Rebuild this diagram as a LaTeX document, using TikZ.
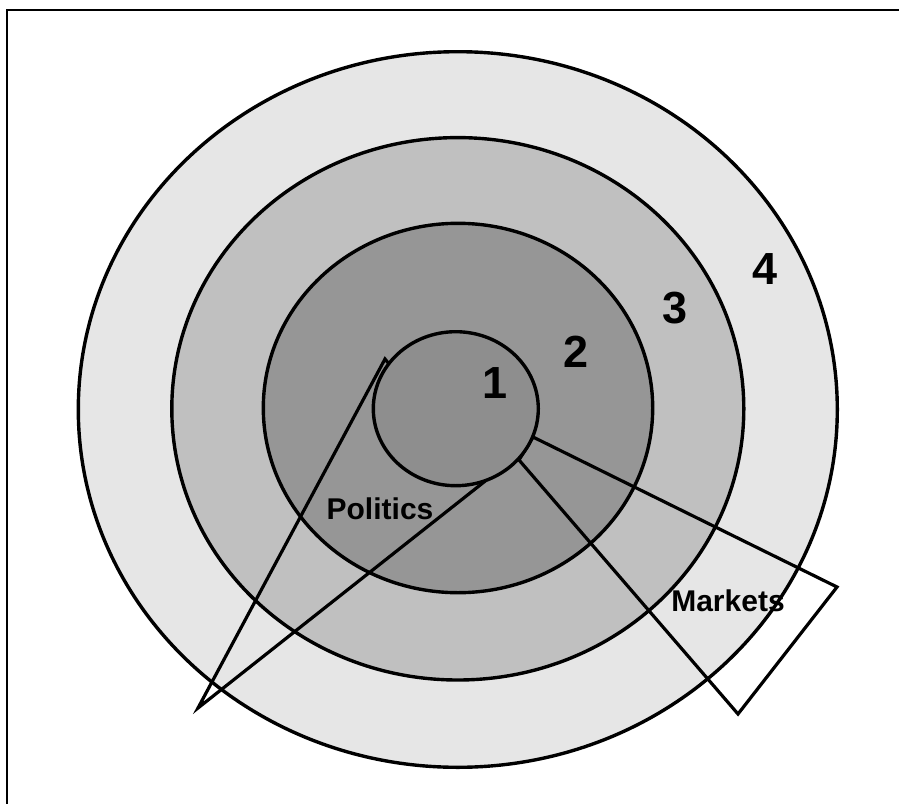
\documentclass[tikz,border=0pt]{standalone}
\usepackage{fontspec}
\setmainfont{Liberation Sans}
\definecolor{ringfour}{RGB}{230,230,230}
\definecolor{ringthree}{RGB}{192,192,192}
\definecolor{ringtwo}{RGB}{150,150,150}
\definecolor{ringone}{RGB}{142,142,142}
\tikzset{
  ring/.style={draw=black, line width=3.4pt},
  wedge/.style={draw=black, line width=3.2pt, line join=miter},
  bignum/.style={font=\bfseries\fontsize{45}{50}\selectfont, inner sep=0pt},
  wedgelabel/.style={font=\bfseries\fontsize{30}{36}\selectfont, inner sep=0pt},
}
\begin{document}
\begin{tikzpicture}[x=1pt,y=-1pt]
\useasboundingbox (0,0) rectangle (899,803);
\fill[white] (0,0) rectangle (899,803);
\begin{scope}
\clip (0,0) rectangle (899,803);
\draw[line width=2.6pt] (7,10) rectangle (920,830);
\end{scope}
% rings
\draw[ring, fill=ringfour]  (457.8,409.5) ellipse [x radius=379.5, y radius=357.8];
\draw[ring, fill=ringthree] (457.8,408.8) ellipse [x radius=286, y radius=271.2];
\draw[ring, fill=ringtwo]   (458,408) ellipse [x radius=194.7, y radius=184.7];
% wedges
\coordinate (pa) at (385,359);
\coordinate (pb) at (198,708);
\coordinate (pc) at (484,482);
\draw[wedge] (pa) -- (pb) -- (pc) -- cycle;
\coordinate (ma) at (533,437);
\coordinate (mb) at (837,587);
\coordinate (mc) at (738,714);
\coordinate (md) at (519,460);
\draw[wedge] (ma) -- (mb) -- (mc) -- (md) -- cycle;
% inner circle
\draw[ring, fill=ringone] (455.8,408.7) ellipse [x radius=82.5, y radius=77];
% labels
\node[bignum] (n1) at (495,383) {1};
\node[bignum] (n2) at (576,352) {2};
\node[bignum] (n3) at (675,308) {3};
\node[bignum] (n4) at (765,269) {4};
\node[wedgelabel] (pol) at (380,509) {Politics};
\node[wedgelabel] (mkt) at (728,601) {Markets};
\end{tikzpicture}
\end{document}
